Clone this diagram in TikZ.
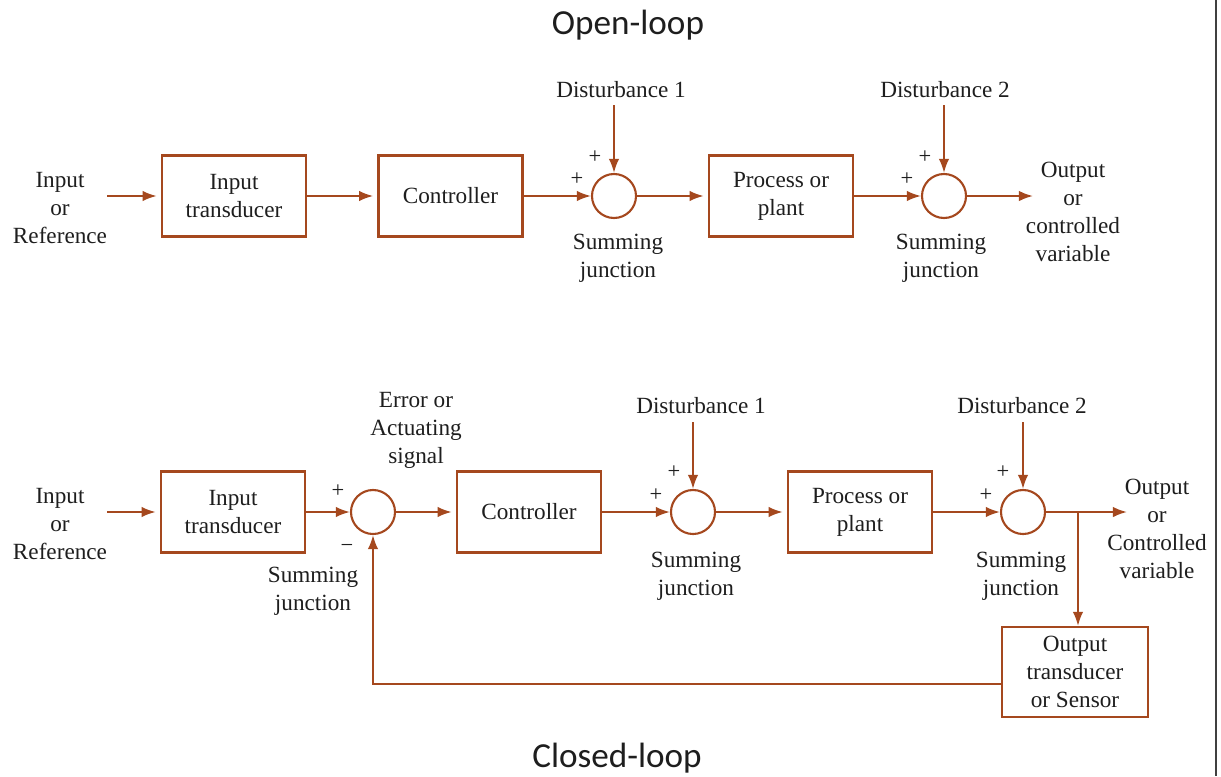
\documentclass[tikz,border=0pt]{standalone}
\usepackage{fontspec}
\setmainfont{Liberation Serif}
\newfontfamily\titlefont{Carlito}
\usetikzlibrary{arrows.meta,calc}
\definecolor{wire}{RGB}{165,72,30}
\definecolor{ink}{RGB}{30,30,30}
\begin{document}
\begin{tikzpicture}[x=0.025cm,y=-0.025cm,
  lbl/.style={align=center,text=ink,font=\fontsize{16.5}{19.9}\selectfont,inner sep=0pt},
  blk/.style={draw=wire,line width=1.5pt,minimum width=3.6cm,minimum height=2.025cm,align=center,text=ink,font=\fontsize{16.5}{19.9}\selectfont,inner sep=0pt},
  sumj/.style={circle,draw=wire,line width=1.5pt,minimum size=1.1cm,inner sep=0pt},
  wireline/.style={draw=wire,line width=1.5pt},
  arr/.style={wireline,-{Latex[length=10pt,width=7.5pt]}},
  sgn/.style={text=ink,font=\fontsize{16}{18}\selectfont,inner sep=0pt},
  ttl/.style={text=ink,font=\titlefont\fontsize{25}{30}\selectfont,inner sep=0pt}]
\useasboundingbox (0,0) rectangle (1221,776);
\fill[white] (0,0) rectangle (1221,776);
% right edge line
\draw[black!75,line width=1.1pt] (1216,0) -- (1216,776);

% titles
\node[ttl] (t1) at (628,25) {Open-loop};
\node[ttl] (t2) at (617,758) {Closed-loop};

% ---------- open loop ----------
\node[blk] (it1) at (234,196) {Input\\transducer};
\node[blk] (c1) at (450.5,196) {Controller};
\node[sumj] (s1) at (614,196) {};
\node[blk] (p1) at (781,196) {Process or\\plant};
\node[sumj] (s2) at (944,196) {};

\node[lbl] (in1l) at (60,208) {Input\\or\\Reference};
\node[lbl] (d1l) at (621,90) {Disturbance 1};
\node[lbl] (d2l) at (945,90) {Disturbance 2};
\node[lbl] (sj1) at (618,258) {Summing\\junction};
\node[lbl] (sj2) at (941,258) {Summing\\junction};
\node[lbl] (o1l) at (1073,212) {Output\\or\\controlled\\variable};
\node[sgn] (pa1) at (595,157) {+};
\node[sgn] (pb1) at (577,179) {+};
\node[sgn] (pa2) at (925,157) {+};
\node[sgn] (pb2) at (907,179) {+};

\coordinate (in1) at (107,196);
\coordinate (d1) at (614,105);
\coordinate (d2) at (944,105);
\coordinate (out1) at (1033,196);

\draw[arr,shorten >=3pt] (in1) -- (it1.west);
\draw[arr,shorten >=3pt] (it1.east) -- (c1.west);
\draw[arr] (c1.east) -- (s1.west);
\draw[arr] (d1) -- (s1.north);
\draw[arr,shorten >=3pt] (s1.east) -- (p1.west);
\draw[arr] (p1.east) -- (s2.west);
\draw[arr] (d2) -- (s2.north);
\draw[arr] (s2.east) -- (out1);

% ---------- closed loop ----------
\node[blk] (it2) at (233,512) {Input\\transducer};
\node[sumj] (s3) at (373,512) {};
\node[blk] (c2) at (529,512) {Controller};
\node[sumj] (s4) at (693,512) {};
\node[blk] (p2) at (860,512) {Process or\\plant};
\node[sumj] (s5) at (1023,512) {};
\node[blk,minimum width=3.65cm,minimum height=2.25cm] (ots) at (1075,672) {Output\\transducer\\or Sensor};

\node[lbl] (in2l) at (60,524) {Input\\or\\Reference};
\node[lbl] (errl) at (416,430) {Error or\\Actuating\\signal};
\node[lbl] (sj3) at (313,591) {Summing\\junction};
\node[lbl] (d3l) at (701,406) {Disturbance 1};
\node[lbl] (d4l) at (1022,406) {Disturbance 2};
\node[lbl] (sj4) at (696,576) {Summing\\junction};
\node[lbl] (sj5) at (1021,576) {Summing\\junction};
\node[lbl] (o2l) at (1157,529) {Output\\or\\Controlled\\variable};
\node[sgn] (pa3) at (338,491) {+};
\node[sgn] (mi3) at (347,548) {−};
\node[sgn] (pa4) at (674,472) {+};
\node[sgn] (pb4) at (656,495) {+};
\node[sgn] (pa5) at (1003,472) {+};
\node[sgn] (pb5) at (986,495) {+};

\coordinate (in2) at (107,512);
\coordinate (d3) at (693,422);
\coordinate (d4) at (1023,422);
\coordinate (br) at (1078,512);
\coordinate (out2) at (1127,512);

\draw[arr,shorten >=3pt] (in2) -- (it2.west);
\draw[arr] (it2.east) -- (s3.west);
\draw[arr,shorten >=3pt] (s3.east) -- (c2.west);
\draw[arr] (c2.east) -- (s4.west);
\draw[arr] (d3) -- (s4.north);
\draw[arr,shorten >=3pt] (s4.east) -- (p2.west);
\draw[arr] (p2.east) -- (s5.west);
\draw[arr] (d4) -- (s5.north);
\draw[wireline] (s5.east) -- (br);
\draw[arr] (br) -- (out2);
\draw[arr] (br) -- (br |- ots.north);
\draw[arr] ([yshift=-0.3cm]ots.west) -| (s3.south);
\end{tikzpicture}
\end{document}
